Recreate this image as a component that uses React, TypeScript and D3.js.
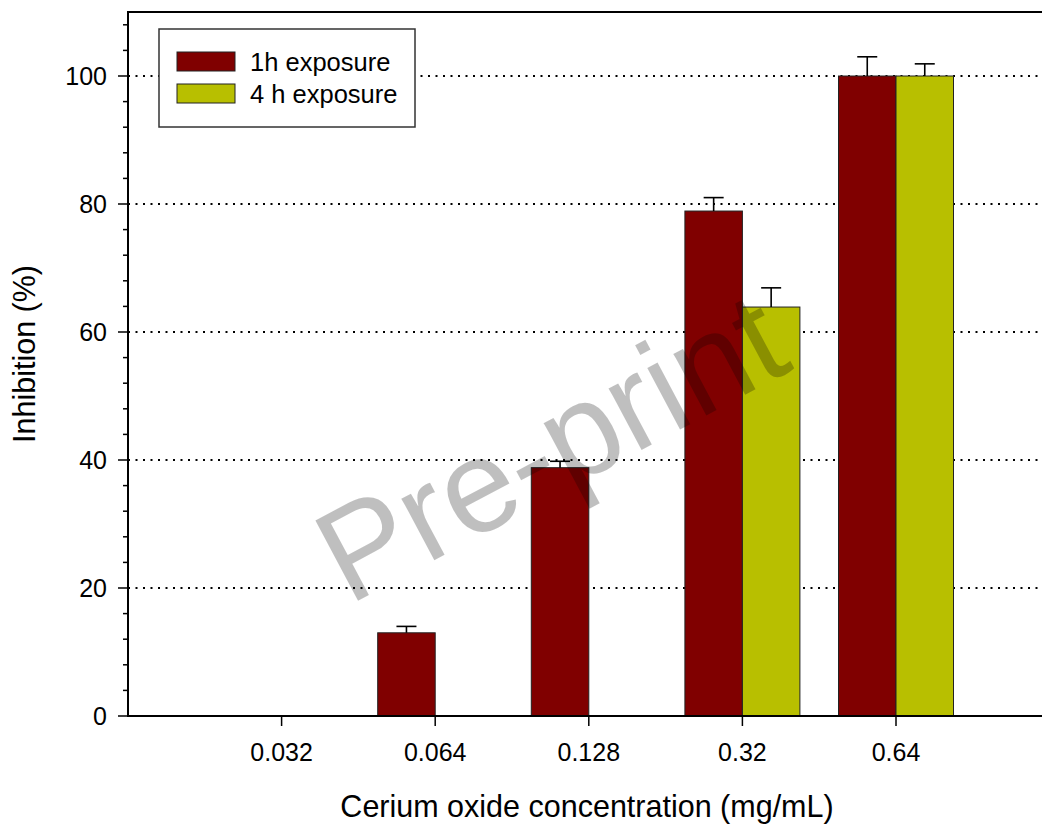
import React from "react";
import * as d3 from "d3";

const categories = ["0.032", "0.064", "0.128", "0.32", "0.64"];
const oneHour = [null, 13.0, 38.8, 78.9, 100];
const oneHourErr = [null, 1.0, 1.0, 2.1, 3.0];
const fourHour = [null, null, null, 63.9, 100];
const fourHourErr = [null, null, null, 3.0, 1.9];
const yTicks = [0, 20, 40, 60, 80, 100];
const seriesNames = ["1h exposure", "4 h exposure"];
const seriesColors = ["#800000", "#b8bf00"];

const W = 1042;
const H = 831;
const left = 128;
const top = 12;
const bottom = 716;
const FONT = "'Liberation Sans', Arial, Helvetica, sans-serif";

export default function App() {
  const x = d3.scaleLinear().domain([0, 6]).range([left, left + 6 * 153.6]);
  const y = d3.scaleLinear().domain([0, 110]).range([bottom, top]);
  const barW = 57.5;
  const minorTicks = d3.range(0, 111, 4).filter((v) => v % 20 !== 0);
  const right = W + 5;

  const series = [
    { vals: oneHour, errs: oneHourErr, off: -barW, color: seriesColors[0] },
    { vals: fourHour, errs: fourHourErr, off: 0, color: seriesColors[1] },
  ];

  return (
    <div style={{ position: "absolute", left: 0, top: 0 }}>
      <svg width={W} height={H} style={{ display: "block", background: "#fff" }} fontFamily={FONT}>
        {yTicks.filter((t) => t > 0).map((t) => (
          <line key={"g" + t} x1={left} x2={right} y1={y(t)} y2={y(t)} stroke="#000" strokeWidth={2} strokeDasharray="2,5.5" />
        ))}
        {series.map((s, si) =>
          s.vals.map((v, i) =>
            v == null ? null : (
              <rect key={"b" + si + i} x={x(i + 1) + s.off} y={y(v)} width={barW} height={y(0) - y(v)} fill={s.color} stroke="#222" strokeWidth={1} />
            )
          )
        )}
        {series.map((s, si) =>
          s.vals.map((v, i) => {
            if (v == null || s.errs[i] == null) return null;
            const cx = x(i + 1) + s.off + barW / 2;
            const yt = y(v + (s.errs[i] as number));
            return (
              <g key={"e" + si + i} stroke="#000" strokeWidth={1.6}>
                <line x1={cx} x2={cx} y1={y(v)} y2={yt} />
                <line x1={cx - 10} x2={cx + 10} y1={yt} y2={yt} />
              </g>
            );
          })
        )}
        <line x1={left} x2={left} y1={top} y2={bottom} stroke="#000" strokeWidth={2} />
        <line x1={left - 1} x2={right} y1={bottom} y2={bottom} stroke="#000" strokeWidth={2} />
        <line x1={left - 1} x2={right} y1={top} y2={top} stroke="#000" strokeWidth={2} />
        {yTicks.map((t) => (
          <g key={"yt" + t}>
            <line x1={left - 10} x2={left} y1={y(t)} y2={y(t)} stroke="#000" strokeWidth={1.5} />
            <text x={107} y={y(t) + 9} textAnchor="end" fontSize={25} fill="#000">{t}</text>
          </g>
        ))}
        {minorTicks.map((t) => (
          <line key={"mt" + t} x1={left - 5} x2={left} y1={y(t)} y2={y(t)} stroke="#000" strokeWidth={1.5} />
        ))}
        {categories.map((c, i) => (
          <g key={"xt" + c}>
            <line x1={x(i + 1)} x2={x(i + 1)} y1={bottom} y2={bottom + 10} stroke="#000" strokeWidth={1.5} />
            <text x={x(i + 1)} y={761} textAnchor="middle" fontSize={25} fill="#000">{c}</text>
          </g>
        ))}
        <text x={587} y={817} textAnchor="middle" fontSize={30.5} fill="#000">Cerium oxide concentration (mg/mL)</text>
        <text transform="translate(35,354) rotate(-90)" textAnchor="middle" fontSize={30.5} fill="#000">Inhibition (%)</text>
        <rect x={159} y={29} width={256} height={98} fill="#fff" stroke="#333" strokeWidth={1.5} />
        {seriesNames.map((n, i) => (
          <g key={"lg" + i}>
            <rect x={177} y={52 + i * 32} width={58} height={19} fill={seriesColors[i]} stroke="#222" strokeWidth={1} />
            <text x={250} y={71 + i * 32} fontSize={25.5} fill="#000">{n}</text>
          </g>
        ))}
        <text transform="translate(572,487) rotate(-28)" textAnchor="middle" fontSize={132} fill="#000" fillOpacity={0.25}>Pre-print</text>
      </svg>
    </div>
  );
}
